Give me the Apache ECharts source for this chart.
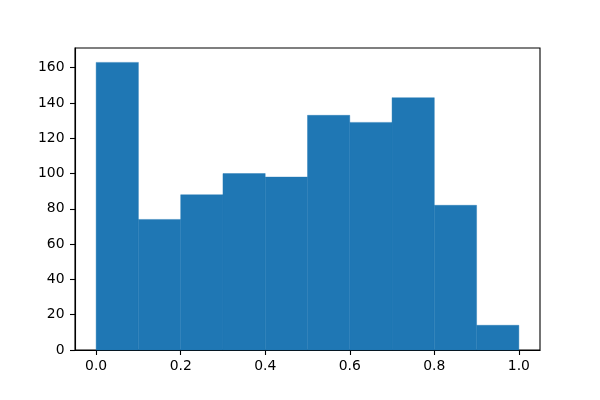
<!DOCTYPE html>
<html><head><meta charset="utf-8">
<script src="https://cdn.jsdelivr.net/npm/echarts@6/dist/echarts.min.js"></script>
<style>html,body{margin:0;padding:0;background:#fff}#c{width:600px;height:400px}</style>
</head><body><div id="c"></div>
<script>
const binEdges = [0.0, 0.1, 0.2, 0.3, 0.4, 0.5, 0.6, 0.7, 0.8, 0.9, 1.0];
const counts = [163, 74, 88, 100, 98, 133, 129, 143, 82, 14];
const xTicks = [0.0, 0.2, 0.4, 0.6, 0.8, 1.0];
const yTicks = [0, 20, 40, 60, 80, 100, 120, 140, 160];

const data = counts.map((c, i) => [binEdges[i], binEdges[i + 1], c]);
const chart = echarts.init(document.getElementById('c'), null, {renderer: 'canvas'});
const font = {fontFamily: 'DejaVu Sans', fontSize: 13.9, color: '#000'};
chart.setOption({
  animation: false,
  grid: {left: 75, right: 60, top: 48, bottom: 50, show: true, borderColor: '#000', borderWidth: 1.1, backgroundColor: 'transparent'},
  xAxis: {
    type: 'value', min: -0.05, max: 1.05,
    splitLine: {show: false},
    axisLine: {show: true, onZero: false, lineStyle: {color: '#000', width: 1.1}},
    axisTick: {show: true, length: 5, inside: false, customValues: xTicks, lineStyle: {color: '#000', width: 1.1}},
    axisLabel: Object.assign({margin: 9, customValues: xTicks, formatter: v => v.toFixed(1)}, font)
  },
  yAxis: {
    type: 'value', min: 0, max: 171.15,
    splitLine: {show: false},
    axisLine: {show: true, onZero: false, lineStyle: {color: '#000', width: 1.1}},
    axisTick: {show: true, length: 5, inside: false, customValues: yTicks, lineStyle: {color: '#000', width: 1.1}},
    axisLabel: Object.assign({margin: 10.5, customValues: yTicks, formatter: v => String(v)}, font)
  },
  series: [{
    type: 'custom',
    data: data,
    encode: {x: [0, 1], y: 2},
    z: 1,
    renderItem: function (params, api) {
      const p0 = api.coord([api.value(0), 0]);
      const p1 = api.coord([api.value(1), api.value(2)]);
      return {
        type: 'rect',
        shape: {x: p0[0], y: p1[1], width: p1[0] - p0[0], height: p0[1] - p1[1]},
        style: {fill: '#1f77b4', stroke: '#1f77b4', lineWidth: 0.4}
      };
    }
  }]
});
</script></body></html>
